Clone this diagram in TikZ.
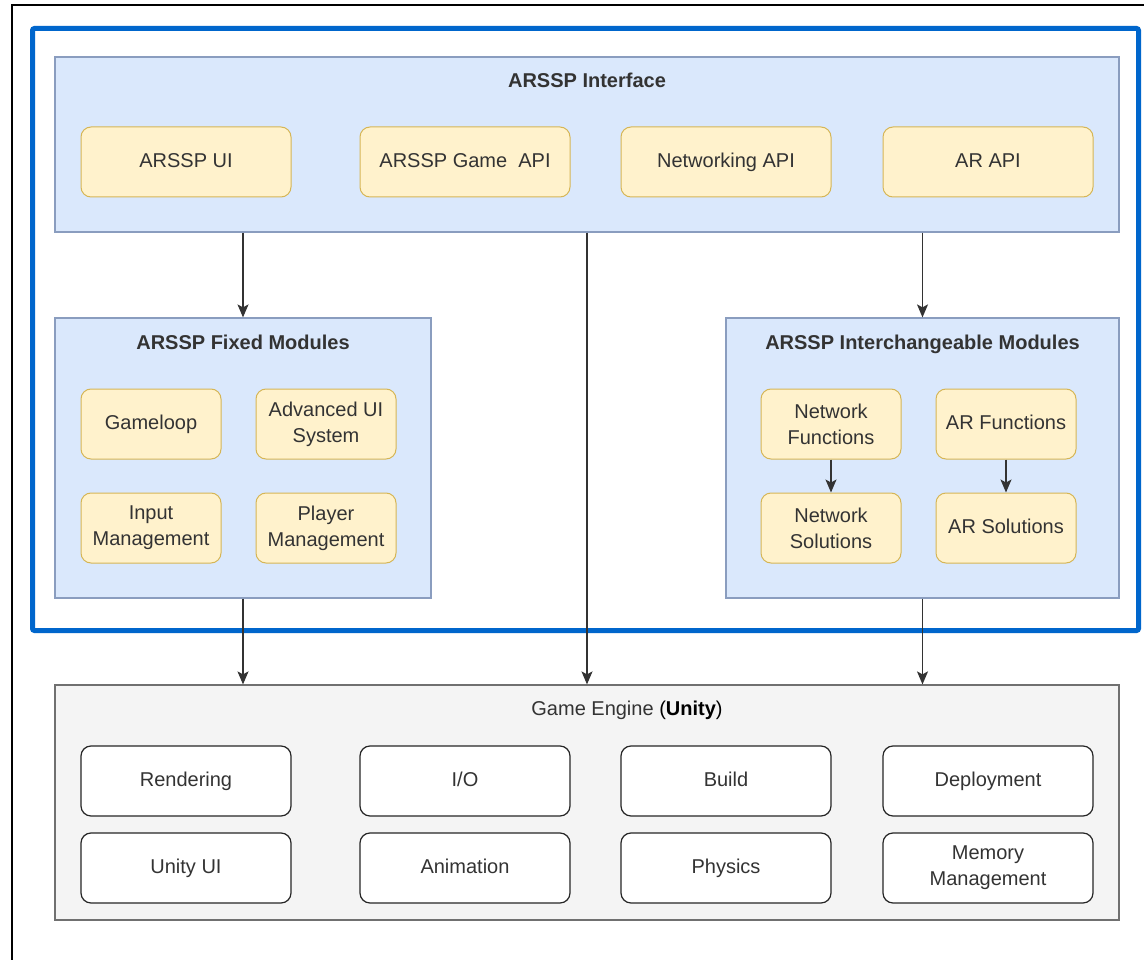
\documentclass[tikz,border=0pt]{standalone}
\usepackage{fontspec}
\setmainfont{Liberation Sans}
\usetikzlibrary{arrows.meta,calc}
\definecolor{bluefill}{HTML}{DAE8FC}
\definecolor{bluestroke}{HTML}{8A9DBF}
\definecolor{yelfill}{HTML}{FFF2CC}
\definecolor{yelstroke}{HTML}{D6B656}
\definecolor{greyfill}{HTML}{F4F4F4}
\definecolor{greystroke}{HTML}{707070}
\definecolor{frameblue}{HTML}{0066CC}
\definecolor{txt}{HTML}{333333}
\tikzset{
  container/.style={draw=bluestroke, fill=bluefill, line width=1.2pt, inner sep=0pt},
  ybox/.style={draw=yelstroke, fill=yelfill, rounded corners=10pt, line width=1pt,
    minimum width=140pt, minimum height=70pt, align=center, text=txt, font=\fontsize{20pt}{26pt}\selectfont, inner sep=0pt},
  wybox/.style={ybox, minimum width=210pt},
  wbox/.style={draw=black!85, fill=white, rounded corners=10pt, line width=1.2pt,
    minimum width=210pt, minimum height=70pt, align=center, text=txt, font=\fontsize{20pt}{26pt}\selectfont, inner sep=0pt},
  oneline/.style={text height=14.5pt, text depth=4pt},
  ttl/.style={text=txt, font=\fontsize{20pt}{24pt}\selectfont\bfseries, inner sep=0pt, text height=14.5pt, text depth=4pt},
  arr/.style={draw=black!80, line width=1.2pt, -{Stealth[length=13pt,width=11pt,inset=3pt]}},
}
\begin{document}
\begin{tikzpicture}[x=1pt,y=-1pt]
\useasboundingbox (0,0) rectangle (1144,960);
\fill[white] (0,0) rectangle (1144,960);
% outer black frame (cropped)
\draw[black, line width=2pt] (12,962) -- (12,5) -- (1146,5);
% blue highlight frame
\draw[frameblue, line width=5pt, rounded corners=2pt] (32.5,28.5) rectangle (1138.5,630.5);

% ARSSP Interface
\node[container, minimum width=1064pt, minimum height=175pt] (iface) at (587,144.5) {};
\node[ttl] (ifacet) at (587,82) {ARSSP Interface};
\node[wybox, oneline] (ui) at (186,162) {ARSSP UI};
\node[wybox, oneline] (gapi) at (465,162) {ARSSP Game\ \ API};
\node[wybox, oneline] (napi) at (726,162) {Networking API};
\node[wybox, oneline] (arapi) at (988,162) {AR API};

% Fixed modules
\node[container, minimum width=376pt, minimum height=280pt] (fixed) at (243,458) {};
\node[ttl] (fixedt) at (243,344) {ARSSP Fixed Modules};
\node[ybox, oneline] (gl) at (151,424) {Gameloop};
\node[ybox] (aui) at (326,424) {Advanced UI\\System};
\node[ybox] (im) at (151,528) {Input\\Management};
\node[ybox] (pm) at (326,528) {Player\\Management};

% Interchangeable modules
\node[container, minimum width=393pt, minimum height=280pt] (inter) at (922.5,458) {};
\node[ttl] (intert) at (922.5,344) {ARSSP Interchangeable Modules};
\node[ybox] (nf) at (831,424) {Network\\Functions};
\node[ybox, oneline] (arf) at (1006,424) {AR Functions};
\node[ybox] (ns) at (831,528) {Network\\Solutions};
\node[ybox, oneline] (ars) at (1006,528) {AR Solutions};

% Game engine
\node[draw=greystroke, fill=greyfill, line width=1.2pt, minimum width=1064pt, minimum height=235pt, inner sep=0pt] (engine) at (587,802.5) {};
\node[inner sep=0pt, oneline, font=\fontsize{20pt}{24pt}\selectfont] (enginet) at (627,710) {\textcolor{txt}{Game Engine} (\textbf{Unity})};
\node[wbox, oneline] (rend) at (186,781) {Rendering};
\node[wbox, oneline] (io) at (465,781) {I/O};
\node[wbox, oneline] (build) at (726,781) {Build};
\node[wbox, oneline] (deploy) at (988,781) {Deployment};
\node[wbox, oneline] (uui) at (186,868) {Unity UI};
\node[wbox, oneline] (anim) at (465,868) {Animation};
\node[wbox, oneline] (phys) at (726,868) {Physics};
\node[wbox] (mem) at (988,868) {Memory\\Management};

% connectors
\draw[arr] (fixed.north |- iface.south) -- (fixed.north);
\draw[arr] (inter.north |- iface.south) -- (inter.north);
\draw[arr] (iface.south) -- (engine.north);
\draw[arr] (fixed.south) -- (fixed.south |- engine.north);
\draw[arr] (inter.south) -- (inter.south |- engine.north);
\draw[arr] (nf.south) -- (ns.north);
\draw[arr] (arf.south) -- (ars.north);
\end{tikzpicture}
\end{document}
